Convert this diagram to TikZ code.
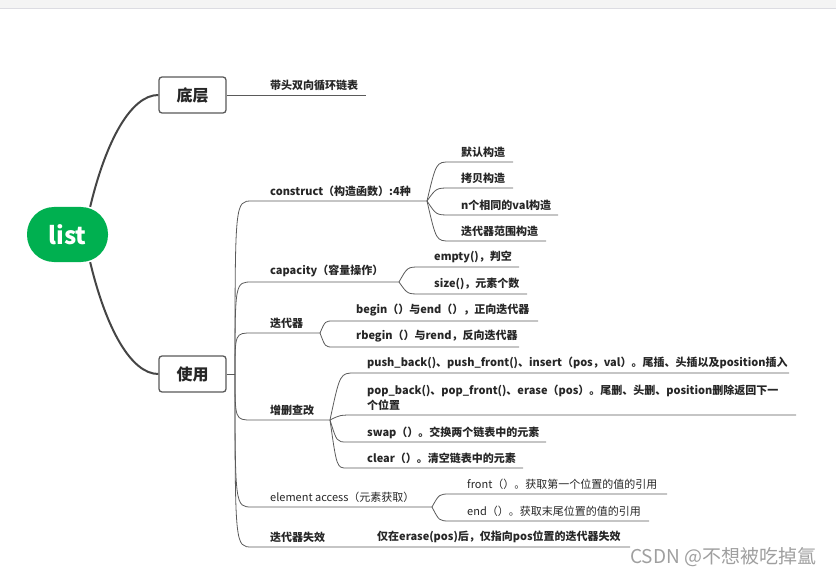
\documentclass[tikz,border=0pt]{standalone}
\usepackage{fontspec}
\setmainfont{Noto Sans CJK SC}
\usepackage{tikz}
\usetikzlibrary{calc}
\definecolor{listgreen}{HTML}{00B050}
\definecolor{boxgray}{HTML}{595959}
\definecolor{trunkgray}{HTML}{454545}
\definecolor{twiggray}{HTML}{5A5A5A}
\definecolor{inkgray}{HTML}{262626}
\definecolor{topgray}{HTML}{F4F4F4}
\definecolor{topline}{HTML}{DCDCE2}

\begin{document}
\begin{tikzpicture}[x=1pt,y=-1pt]
		\tikzset{root/.style = {shape=rectangle,rounded corners=27pt,fill=listgreen,text=white,minimum width=81pt,minimum height=55pt,font=\fontsize{24}{24}\selectfont\bfseries}}
		\tikzset{topic/.style = {shape=rectangle,rounded corners=3pt,draw=boxgray,line width=1.3pt,fill=white,text=inkgray,minimum width=67pt,minimum height=36pt,font=\fontsize{16}{16}\selectfont\bfseries}}
		\tikzset{item/.style = {anchor=west,inner sep=0pt,text=inkgray,font=\fontsize{11}{15}\selectfont\bfseries}}
		\tikzset{plain/.style = {anchor=west,inner sep=0pt,text=inkgray,font=\fontsize{11}{15}\selectfont}}
		\tikzset{trunk/.style = {draw=trunkgray,line width=2pt}}
		\tikzset{twig/.style = {draw=twiggray,line width=0.8pt}}
		
		\useasboundingbox (0,0) rectangle (836,575);
		\fill[topgray] (0,0) rectangle (836,8);
		\draw[topline] (0,8.5) -- (836,8.5);
		
		\node[root] (list) at (67.5,234.5) {list};
		\node[topic] (base) at (192.5,95) {底层};
		\node[topic] (use) at (192.5,374) {使用};
		
		\draw[trunk] ([xshift=-18pt]list.north east) .. controls +(16,-67) and +(-27,0) .. (base.west);
		\draw[trunk] ([xshift=-18pt]list.south east) .. controls +(16,67) and +(-27,0) .. (use.west);
		
		% 底层
		\node[item] (ring) at (270,85) {带头双向循环链表};
		\coordinate (ring-r) at (366,95);
		\draw[twig] (base.east) -- (ring-r);
		
		% 使用
		\coordinate (use-b) at (235,374);
		\draw[twig] (use.east) -- (use-b);
		
		\node[item] (cons) at (270,191) {construct（构造函数）:4种};
		\node[item] (cap) at (270,271) {capacity（容量操作）};
		\node[item] (iter) at (270,323) {迭代器};
		\node[item] (crud) at (270,410) {增删查改};
		\node[plain] (acc) at (270,497) {element access（元素获取）};
		\node[item] (inv) at (270,537) {迭代器失效};
		\node[item] (invtxt) at (377,537) {仅在erase(pos)后，仅指向pos位置的迭代器失效};
		
		\coordinate (cons-l) at (252,201); \coordinate (cons-r) at (427,201);
		\coordinate (cap-l) at (252,282);  \coordinate (cap-r) at (399,282);
		\coordinate (iter-l) at (252,333); \coordinate (iter-r) at (320,333);
		\coordinate (crud-l) at (252,420); \coordinate (crud-r) at (330,420);
		\coordinate (acc-l) at (252,507);  \coordinate (acc-r) at (432,507);
		\coordinate (inv-l) at (252,547);  \coordinate (inv-r) at (630,547);
		
		\foreach \c in {cons,cap,iter,crud,acc,inv}
			\draw[twig] (use-b) .. controls (use-b |- \c-l) .. (\c-l) -- (\c-r);
		
		% construct
		\node[item] (c1) at (461,152) {默认构造};
		\node[item] (c2) at (461,178) {拷贝构造};
		\node[item] (c3) at (461,205) {n个相同的val构造};
		\node[item] (c4) at (461,231) {迭代器范围构造};
		\coordinate (c1-l) at (450,162); \coordinate (c1-r) at (513,162);
		\coordinate (c2-l) at (450,188); \coordinate (c2-r) at (513,188);
		\coordinate (c3-l) at (450,215); \coordinate (c3-r) at (558,215);
		\coordinate (c4-l) at (450,241); \coordinate (c4-r) at (546,241);
		\foreach \c in {c1,c2,c3,c4}
			\draw[twig] (cons-r) .. controls ($(cons-r |- \c-l)!.4!(\c-l)$) .. (\c-l) -- (\c-r);
		
		% capacity
		\node[item] (e1) at (434,257) {empty()，判空};
		\node[item] (e2) at (434,284) {size()，元素个数};
		\coordinate (e1-l) at (420,267); \coordinate (e1-r) at (519,267);
		\coordinate (e2-l) at (420,294); \coordinate (e2-r) at (527,294);
		\foreach \c in {e1,e2}
			\draw[twig] (cap-r) .. controls ($(cap-r |- \c-l)!.4!(\c-l)$) .. (\c-l) -- (\c-r);
		
		% 迭代器
		\node[item] (b1) at (356,310) {begin（）与end（），正向迭代器};
		\node[item] (b2) at (356,336) {rbegin（）与rend，反向迭代器};
		\coordinate (b1-l) at (333,321); \coordinate (b1-r) at (538,321);
		\coordinate (b2-l) at (333,347); \coordinate (b2-r) at (519,347);
		\foreach \c in {b1,b2}
			\draw[twig] (iter-r) .. controls ($(iter-r |- \c-l)!.4!(\c-l)$) .. (\c-l) -- (\c-r);
		
		% 增删查改
		\node[item] (p1) at (367,363) {push\_back()、push\_front()、insert（pos，val）。尾插、头插以及position插入};
		\node[item,align=left] (p2) at (367,397.5) {pop\_back()、pop\_front()、erase（pos）。尾删、头删、position删除返回下一\\个位置};
		\node[item] (p3) at (367,433) {swap（）。交换两个链表中的元素};
		\node[item] (p4) at (367,458) {clear（）。清空链表中的元素};
		\coordinate (p1-l) at (355,373); \coordinate (p1-r) at (789,373);
		\coordinate (p2-l) at (355,415); \coordinate (p2-r) at (796,415);
		\coordinate (p3-l) at (347,442); \coordinate (p3-r) at (546,442);
		\coordinate (p4-l) at (347,468); \coordinate (p4-r) at (523,468);
		\foreach \c in {p1,p2,p3,p4}
			\draw[twig] (crud-r) .. controls ($(crud-r |- \c-l)!.4!(\c-l)$) .. (\c-l) -- (\c-r);
		
		% element access
		\node[plain] (f1) at (467,484) {front（）。获取第一个位置的值的引用};
		\node[plain] (f2) at (467,511) {end（）。获取末尾位置的值的引用};
		\coordinate (f1-l) at (450,494); \coordinate (f1-r) at (667,494);
		\coordinate (f2-l) at (450,521); \coordinate (f2-r) at (649,521);
		\foreach \c in {f1,f2}
			\draw[twig] (acc-r) .. controls ($(acc-r |- \c-l)!.4!(\c-l)$) .. (\c-l) -- (\c-r);
		
		\node[anchor=west,inner sep=0pt,text=gray!75,font=\fontsize{19}{19}\selectfont] (mark) at (630,557) {CSDN @不想被吃掉氲};
		\end{tikzpicture}
\end{document}
